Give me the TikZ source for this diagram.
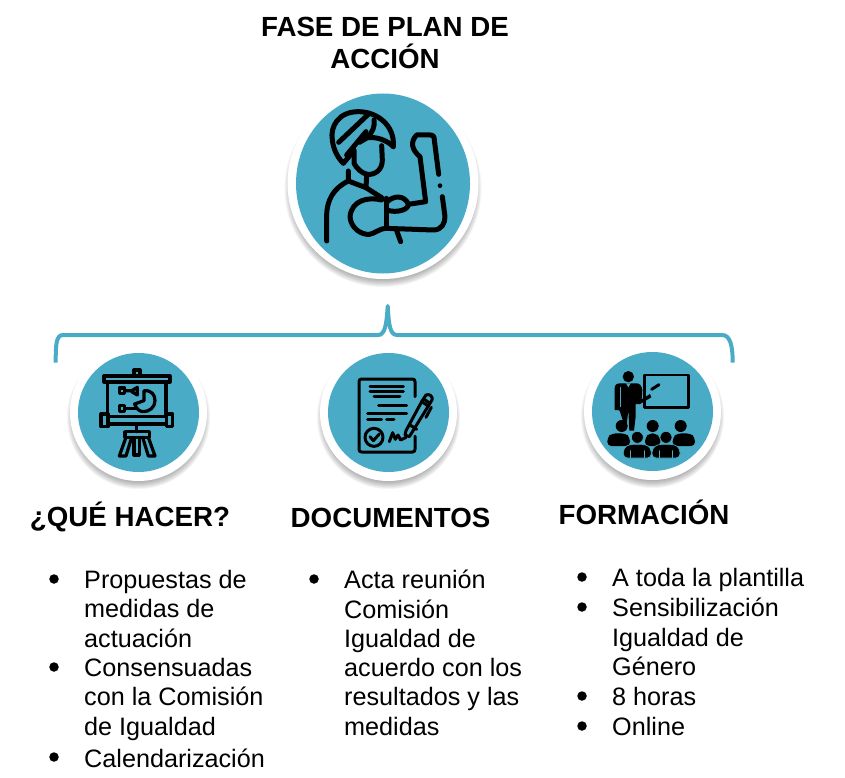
\documentclass[tikz,border=0pt]{standalone}
\usepackage{fontspec}
\setmainfont{Liberation Sans}
\usetikzlibrary{positioning}
\tikzset{
  headtext/.style={inner sep=0pt,anchor=base,font=\fontsize{27.7}{32.7}\selectfont\bfseries,align=center},
  listtext/.style={inner sep=0pt,anchor=north west,font=\fontsize{25.2}{29.3}\selectfont,align=left},
  listdot/.style={circle,fill=black,inner sep=0pt,minimum size=9.5pt},
  iconline/.style={line width=#1,line cap=round,line join=round,draw=black},
  iconline/.default=3.6pt
}
\newcommand{\badge}[5]{% x, y, white radius, blue x radius, blue y radius
  \foreach \s in {0,1,...,7}
    \fill[black,fill opacity=0.045] (#1,#2+5) circle ({#3+3-\s});
  \fill[white] (#1,#2) circle (#3);
  \fill[tealblue] (#1,#2) ellipse ({#4} and {#5});
}
\begin{document}
\begin{tikzpicture}[line cap=round,line join=round,x=1pt,y=-1pt]
\definecolor{tealblue}{rgb}{0.29,0.67,0.78}
\useasboundingbox (0,0) rectangle (845,778);
% title
\node[headtext] (title) at (385,69) {FASE DE PLAN DE\\ACCIÓN};
% brace
\draw[tealblue,line width=4pt,line cap=butt,line join=round] (55.7,362.7) .. controls (55.7,345) and (56,335) .. (63,335) -- (378,335) .. controls (385,335) and (386.5,325) .. (387.7,306) .. controls (388.8,325) and (390,335) .. (397,335) -- (722,335) .. controls (730,335) and (732.7,345) .. (732.7,362.7);
% badges
\badge{383}{183.5}{95.5}{87}{90}
\badge{138.5}{412.5}{68.5}{60.5}{59.5}
\badge{388.5}{412.5}{68.5}{60.5}{59.5}
\badge{652.5}{411.5}{68.5}{60.5}{59.5}
% worker
\begin{scope}[shift={(280,85)},scale=1/3]
\draw[iconline=5pt] (340,185) .. controls (345,120) and (290,80) .. (235,80) .. controls (175,80) and (150,125) .. (157,165) .. controls (160,195) and (175,220) .. (190,235) -- (215,205);
\draw[iconline=5pt] (176,172) -- (268,85);
\draw[iconline=5pt] (200,210) -- (258,140);
\draw[iconline=5pt] (340,185) .. controls (320,165) and (290,155) .. (262,158) .. controls (278,140) and (285,125) .. (282,105);
\draw[iconline=5pt] (262,158) -- (238,172);
\draw[iconline=5pt] (305,182) -- (307,225) .. controls (307,255) and (285,270) .. (262,268) .. controls (245,265) and (230,250) .. (222,235) -- (222,195);
\draw[iconline=5pt] (205,258) -- (205,288) -- (258,308) -- (260,272);
\draw[iconline=5pt] (258,308) -- (305,338);
\draw[iconline=5pt] (205,288) .. controls (160,310) and (140,345) .. (140,395) -- (140,468);
\draw[iconline=5pt] (305,345) .. controls (265,335) and (215,345) .. (210,395) .. controls (212,430) and (245,450) .. (268,448) .. controls (290,443) and (300,430) .. (318,430) -- (460,435) .. controls (485,435) and (495,415) .. (495,395) -- (487,335);
\draw[iconline=5pt] (318,340) -- (318,430);
\draw[iconline=5pt] (320,352) .. controls (340,330) and (375,330) .. (385,358) .. controls (385,375) and (350,385) .. (320,375);
\draw[iconline=5pt] (385,358) -- (437,350) -- (420,215) .. controls (395,195) and (390,170) .. (410,150) -- (450,150) .. controls (460,150) and (463,155) .. (463,165) -- (476,268);
\draw[iconline=5pt] (350,437) -- (362,470);
\fill (480,302) circle (7);
\end{scope}
% presentation board
\begin{scope}[shift={(40,300)},scale=1/3]
\draw[iconline=3.2pt] (192,228) rectangle (390,246);
\draw[iconline=3.2pt] (282,210) rectangle (300,228);
\draw[iconline=3.2pt] (203,246) -- (203,350);
\draw[iconline=3.2pt] (378,246) -- (378,350);
\draw[iconline=3.2pt] (204,350) rectangle (380,372);
\draw[iconline=3.2pt] (183,342) rectangle (204,380);
\draw[iconline=3.2pt] (380,342) rectangle (398,380);
\draw[iconline=3.2pt] (290,372) -- (290,395);
\draw[iconline=3.2pt] (255,395) rectangle (328,412);
\draw[iconline=3.2pt] (258,412) -- (238,468) -- (258,468) -- (275,412);
\draw[iconline=3.2pt] (282,412) rectangle (298,465);
\draw[iconline=3.2pt] (325,412) -- (345,468) -- (325,468) -- (308,412);
\draw[iconline=3.2pt] (238,264) rectangle (254,280);
\draw[iconline=3.2pt] (238,316) rectangle (254,334);
\draw[iconline=3.2pt] (254,272) -- (275,272) -- (292,262) -- (292,285) -- (275,275);
\draw[iconline=3.2pt] (254,325) -- (290,325);
\draw[iconline=3.2pt] (312,272) .. controls (335,270) and (345,285) .. (345,302) .. controls (345,322) and (328,335) .. (310,335) .. controls (298,335) and (288,325) .. (284,312) -- (312,302) -- cycle;
\end{scope}
% signed document
\begin{scope}[shift={(40,300)},scale=1/3]
\draw[iconline=3pt] (1125,290) -- (1125,245) .. controls (1125,240) and (1122,237) .. (1118,237) -- (965,237) .. controls (960,237) and (957,240) .. (957,245) -- (957,448) .. controls (957,453) and (960,456) .. (965,456) -- (1118,456) .. controls (1122,456) and (1125,453) .. (1125,448) -- (1125,408);
\draw[iconline=3pt] (990,260) -- (1090,260);
\draw[iconline=3pt] (990,273) -- (1090,273);
\draw[iconline=3pt] (1002,288) -- (1080,288);
\draw[iconline=3pt] (1016,316) -- (1100,316);
\draw[iconline=3pt] (983,340) -- (1100,340);
\draw[iconline=3pt] (983,357) -- (1025,357);
\draw[iconline=3pt] (1040,357) -- (1062,357);
\draw[iconline=3pt] (1002,412) circle (27);
\draw[iconline=3pt] (990,410) -- (1000,422) -- (1018,402);
\draw[iconline=3pt] (1048,425) -- (1058,398) -- (1066,418) -- (1074,405) -- (1082,420) -- (1098,412);
\draw[iconline=3pt] (1095,405) -- (1108,410) -- (1165,318) -- (1145,305) -- (1098,392) -- cycle;
\draw[iconline=3pt] (1145,305) -- (1158,285) .. controls (1168,280) and (1180,290) .. (1176,300) -- (1165,318);
\draw[iconline=3pt] (1150,296) -- (1170,310);
\draw[iconline=3pt] (1174,322) -- (1158,352);
\draw[iconline=3pt] (1110,375) -- (1130,388);
\end{scope}
% teacher and audience
\begin{scope}[shift={(440,300)},scale=1/3]
\fill (565,230) circle (17);
\fill (540,250) -- (590,250) .. controls (600,250) and (605,258) .. (607,270) -- (605,298) -- (630,282) -- (634,292) -- (600,312) -- (587,312) -- (587,350) -- (582,392) -- (568,392) -- (565,330) -- (558,392) -- (548,360) -- (540,335) -- (536,330) -- (524,330) -- (524,265) .. controls (524,255) and (530,250) .. (540,250) -- cycle;
\draw[tealblue,line width=0.8pt] (540,262) -- (540,320);
\fill[tealblue] (558,250) -- (572,250) -- (565,262) -- cycle;
\draw[iconline=2.8pt] (613,225) rectangle (745,322);
\draw[iconline=3pt] (635,268) -- (657,254);
\foreach \hx/\hy in {545/378,638/378,722/378}
  \fill (\hx,\hy) circle (18);
\foreach \bx/\bw in {502/68,615/46,698/67}
  \fill[rounded corners=4pt] (\bx,438) -- (\bx,412) -- (\bx+14,400) -- (\bx+\bw-14,400) -- (\bx+\bw,412) -- (\bx+\bw,438) -- cycle;
\foreach \bx in {550,636}
  \filldraw[draw=tealblue,line width=0.7pt,rounded corners=4pt] (\bx,474) -- (\bx,445) -- (\bx+16,433) -- (\bx+68,433) -- (\bx+84,445) -- (\bx+84,474) -- cycle;
\foreach \hx/\hy in {592/412,678/412}
  \filldraw[draw=tealblue,line width=0.7pt] (\hx,\hy) circle (18);
\foreach \tx in {570,612,658,698}
  \draw[tealblue,line width=0.7pt] (\tx,452) -- (\tx,474);
\end{scope}
% headings
\node[headtext] (whathead) at (130,526.5) {¿QUÉ HACER?};
\node[headtext] (dochead) at (390.5,527) {DOCUMENTOS};
\node[headtext] (trainhead) at (644,524) {FORMACIÓN};
% first list
\node[listdot] (whatdota) at (54,579) {};
\node[listtext] (whata) at (84,570) {Propuestas de\\medidas de\\actuación};
\node[listdot] (whatdotb) at (54,667) {};
\node[listtext] (whatb) at (84,658) {Consensuadas\\con la Comisión\\de Igualdad};
\node[listdot] (whatdotc) at (54,757) {};
\node[listtext] (whatc) at (84,749) {Calendarización};
% second list
\node[listdot] (docdota) at (314,579) {};
\node[listtext] (doca) at (344,570) {Acta reunión\\Comisión\\Igualdad de\\acuerdo con los\\resultados y las\\medidas};
% third list
\node[listdot] (traindota) at (582,577) {};
\node[listtext] (traina) at (612,568.5) {A toda la plantilla};
\node[listdot] (traindotb) at (582,607) {};
\node[listtext] (trainb) at (612,598) {Sensibilización\\Igualdad de\\Género};
\node[listdot] (traindotc) at (582,696) {};
\node[listtext] (trainc) at (612,687.5) {8 horas};
\node[listdot] (traindotd) at (582,726) {};
\node[listtext] (traind) at (612,717) {Online};
\end{tikzpicture}
\end{document}
